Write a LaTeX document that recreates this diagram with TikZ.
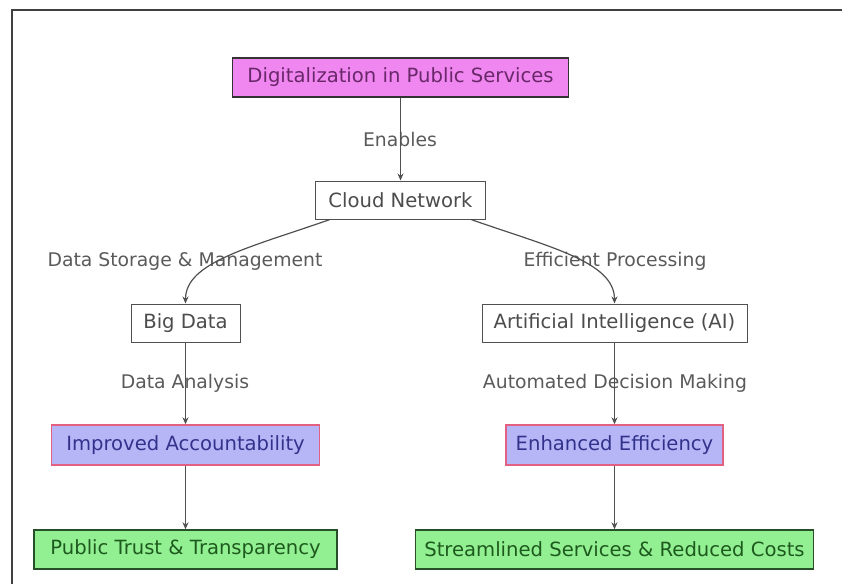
\documentclass[tikz,border=0pt]{standalone}
\usepackage{fontspec}
\setmainfont{DejaVu Sans}
\usetikzlibrary{arrows.meta}
\definecolor{edgegray}{RGB}{80,80,80}
\definecolor{labelgray}{RGB}{90,90,90}
\definecolor{violetfill}{RGB}{240,134,240}
\definecolor{violettext}{RGB}{105,40,105}
\definecolor{lavfill}{RGB}{182,182,246}
\definecolor{lavborder}{RGB}{228,96,130}
\definecolor{lavtext}{RGB}{50,50,140}
\definecolor{greenfill}{RGB}{146,240,146}
\definecolor{greenborder}{RGB}{40,80,40}
\definecolor{greentext}{RGB}{30,90,30}
\tikzset{
  box/.style={rectangle, inner sep=0pt, font=\fontsize{19.6}{22}\selectfont},
  plainbox/.style={box, draw=edgegray, line width=1pt, fill=white, text=black!70},
  rootbox/.style={box, draw=black!80, line width=1.6pt, fill=violetfill, text=violettext},
  midbox/.style={box, draw=lavborder, line width=1.4pt, fill=lavfill, text=lavtext},
  leafbox/.style={box, draw=greenborder, line width=1.4pt, fill=greenfill, text=greentext},
  conn/.style={draw=edgegray, line width=1.2pt, -{Stealth[length=7pt,width=6pt]}},
  elabel/.style={font=\fontsize{18.8}{21}\selectfont, text=labelgray, inner sep=0pt}
}
\begin{document}
\begin{tikzpicture}[x=1pt,y=1pt]
\useasboundingbox (0,0) rectangle (842,-584);
% frame
\draw[black!75, line width=2pt] (12,-584) -- (12,-10) -- (842,-10);

% nodes
\node[rootbox, minimum width=336pt, minimum height=39pt] (dig) at (400.5,-77.5) {Digitalization in Public Services};
\node[plainbox, minimum width=170pt, minimum height=38pt] (cloud) at (400.5,-200) {Cloud Network};
\node[plainbox, minimum width=109pt, minimum height=38pt] (big) at (185.5,-323) {Big Data};
\node[plainbox, minimum width=265pt, minimum height=38pt] (ai) at (614.5,-323) {Artificial Intelligence (AI)};
\node[midbox, minimum width=268pt, minimum height=40pt] (acc) at (185.5,-445) {Improved Accountability};
\node[midbox, minimum width=217pt, minimum height=40pt] (eff) at (614.5,-445) {Enhanced Efficiency};
\node[leafbox, minimum width=303pt, minimum height=39pt] (trust) at (185.5,-549.5) {Public Trust \& Transparency};
\node[leafbox, minimum width=398pt, minimum height=39pt] (stream) at (614.5,-549.5) {Streamlined Services \& Reduced Costs};

% edge labels
\node[elabel] (lenable) at (400,-139) {Enables};
\node[elabel] (lstore) at (185,-261) {Data Storage \& Management};
\node[elabel] (lproc) at (615,-261) {Efficient Processing};
\node[elabel] (lanal) at (185,-383) {Data Analysis};
\node[elabel] (ladm) at (615,-383) {Automated Decision Making};

% connectors
\draw[conn] (dig.south) -- (cloud.north);
\draw[conn] (cloud.south west) ++(15,0) .. controls +(-80,-28) and (185.5,-262) .. (big.north);
\draw[conn] (cloud.south east) ++(-15,0) .. controls +(80,-28) and (614.5,-262) .. (ai.north);
\draw[conn] (big.south) -- (acc.north);
\draw[conn] (ai.south) -- (eff.north);
\draw[conn] (acc.south) -- (trust.north);
\draw[conn] (eff.south) -- (stream.north);
\end{tikzpicture}
\end{document}
